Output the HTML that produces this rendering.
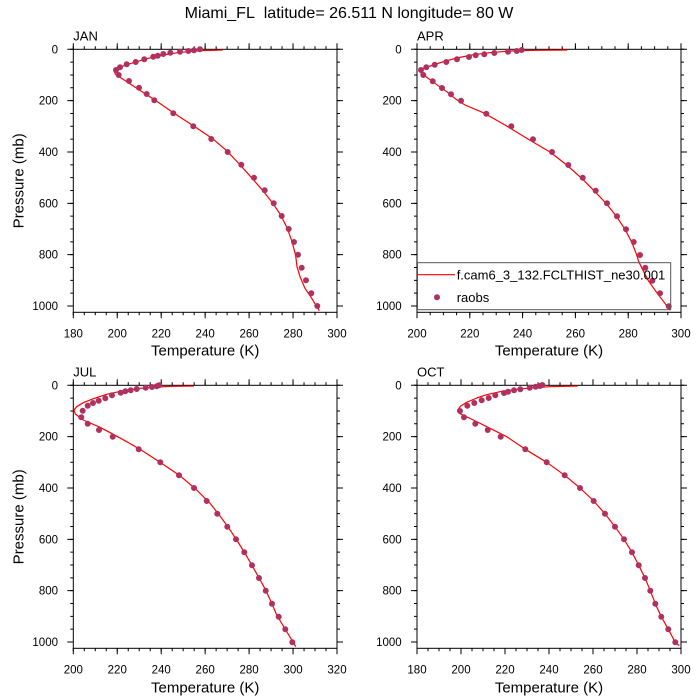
<!DOCTYPE html>
<html>
<head>
<meta charset="utf-8">
<style>
  html, body { margin:0; padding:0; background:#fff; }
  svg { display:block; }
  text { font-family: "Liberation Sans", Arial, sans-serif; fill:#000; }
  .tk { font-size:11.5px; }
  .ax { font-size:15px; }
  .pt { font-size:13px; }
</style>
</head>
<body>
<svg width="700" height="700" viewBox="0 0 700 700" xmlns="http://www.w3.org/2000/svg">
  <rect width="700" height="700" fill="#fff"/>
  <text x="349" y="18" font-size="16" text-anchor="middle">Miami_FL&#160; latitude= 26.511 N longitude= 80 W</text>

  <!-- ========== JAN ========== -->
  <g>
    <text class="pt" x="73.3" y="40.7">JAN</text>
    <rect x="73.3" y="49.3" width="263.7" height="263" fill="none" stroke="#000" stroke-width="1"/>
    <g stroke="#000" fill="none">
      <line x1="72.8" y1="313.8" x2="337.6" y2="313.8" stroke-width="3" stroke-dasharray="1 9.9875"/>
      <line x1="72.8" y1="315.3" x2="337.6" y2="315.3" stroke-width="6" stroke-dasharray="1 42.95"/>
      <line x1="72.8" y1="47.8" x2="337.6" y2="47.8" stroke-width="3" stroke-dasharray="1 9.9875"/>
      <line x1="72.8" y1="46.3" x2="337.6" y2="46.3" stroke-width="6" stroke-dasharray="1 42.95"/>
      <line x1="71.8" y1="48.8" x2="71.8" y2="306.6" stroke-width="3" stroke-dasharray="1 11.835"/>
      <line x1="70.3" y1="48.8" x2="70.3" y2="306.6" stroke-width="6" stroke-dasharray="1 50.34"/>
      <line x1="338.5" y1="48.8" x2="338.5" y2="306.6" stroke-width="3" stroke-dasharray="1 11.835"/>
      <line x1="340" y1="48.8" x2="340" y2="306.6" stroke-width="6" stroke-dasharray="1 50.34"/>
    </g>
    <g class="tk" text-anchor="middle">
      <text x="73.3" y="337.3">180</text><text x="117.25" y="337.3">200</text><text x="161.2" y="337.3">220</text>
      <text x="205.15" y="337.3">240</text><text x="249.1" y="337.3">260</text><text x="293.05" y="337.3">280</text><text x="337" y="337.3">300</text>
    </g>
    <g class="tk" text-anchor="end">
      <text x="58" y="53.3">0</text><text x="58" y="104.6">200</text><text x="58" y="156">400</text>
      <text x="58" y="207.3">600</text><text x="58" y="258.7">800</text><text x="58" y="310">1000</text>
    </g>
    <text class="ax" x="205.2" y="355.5" text-anchor="middle">Temperature (K)</text>
    <text class="ax" x="23.5" y="180.8" text-anchor="middle" transform="rotate(-90 23.5 180.8)">Pressure (mb)</text>
    <polyline fill="none" stroke="#ff0000" stroke-width="1.2" stroke-linejoin="round"
      points="222.7,50 200,50.7 180,52.3 163.3,55 146.7,58.7 133.3,62.7 123.3,66 116.7,69 114.3,71.3 115.3,74 120,77.3 133.3,86 146.7,94.7 156.7,101.3 173.3,112.7 193.3,125.7 213.3,139.3 226.7,150.7 239.3,164 250.7,176.7 261.7,189.3 271.7,201.7 280.7,215 287.3,228.3 292,241.7 294.7,251.7 295.7,256 297,266.7 300,276.7 305,288.3 311.7,298.3 319.3,310.7"/>
    <path fill="none" stroke="#B03060" stroke-width="6" stroke-linecap="round"
      d="M200,49.3h0M194,50.3h0M188.3,51h0M180,51.7h0M170.3,52.7h0M163.3,54h0M157.7,55.7h0M153.3,56.7h0M144.3,59.3h0M135.7,62h0M126.7,64.3h0M120,67.3h0M116,70h0M118.7,75h0M129,81h0M139,87.7h0M146.7,94h0M154.3,100.3h0M173.3,113.3h0M193.3,126.3h0M211.3,139h0M227.7,152h0M241.3,164.7h0M254,177.7h0M264.7,190.3h0M273.7,203.3h0M281.7,216h0M288.7,229h0M294,242h0M298,254.7h0M301.7,267.7h0M306,280.3h0M311.3,293.3h0M317.3,306h0"/>
  </g>

  <!-- ========== APR ========== -->
  <g>
    <text class="pt" x="417" y="40.7">APR</text>
    <rect x="417" y="49.3" width="264" height="263" fill="none" stroke="#000" stroke-width="1"/>
    <g stroke="#000" fill="none">
      <line x1="416.5" y1="313.8" x2="681.6" y2="313.8" stroke-width="3" stroke-dasharray="1 12.2"/>
      <line x1="416.5" y1="315.3" x2="681.6" y2="315.3" stroke-width="6" stroke-dasharray="1 51.8"/>
      <line x1="416.5" y1="47.8" x2="681.6" y2="47.8" stroke-width="3" stroke-dasharray="1 12.2"/>
      <line x1="416.5" y1="46.3" x2="681.6" y2="46.3" stroke-width="6" stroke-dasharray="1 51.8"/>
      <line x1="415.5" y1="48.8" x2="415.5" y2="306.6" stroke-width="3" stroke-dasharray="1 11.835"/>
      <line x1="414" y1="48.8" x2="414" y2="306.6" stroke-width="6" stroke-dasharray="1 50.34"/>
      <line x1="682.5" y1="48.8" x2="682.5" y2="306.6" stroke-width="3" stroke-dasharray="1 11.835"/>
      <line x1="684" y1="48.8" x2="684" y2="306.6" stroke-width="6" stroke-dasharray="1 50.34"/>
    </g>
    <g class="tk" text-anchor="middle">
      <text x="417" y="337.3">200</text><text x="469.8" y="337.3">220</text><text x="522.6" y="337.3">240</text>
      <text x="575.4" y="337.3">260</text><text x="628.2" y="337.3">280</text><text x="681" y="337.3">300</text>
    </g>
    <g class="tk" text-anchor="end">
      <text x="401.7" y="53.3">0</text><text x="401.7" y="104.6">200</text><text x="401.7" y="156">400</text>
      <text x="401.7" y="207.3">600</text><text x="401.7" y="258.7">800</text><text x="401.7" y="310">1000</text>
    </g>
    <text class="ax" x="549" y="355.5" text-anchor="middle">Temperature (K)</text>
    <polyline fill="none" stroke="#ff0000" stroke-width="1.2" stroke-linejoin="round"
      points="567.3,50 536.7,50.3 510,51 490,52.7 473.3,54.7 456.7,58 443.3,61.7 433.3,65 425,67.7 420,70 420.7,72.7 425,76 435,83.3 446.7,91.7 456,99.3 465,105 483.3,112.7 505,125 528.3,139.3 550,152 566.7,165 581.7,178.3 595,191.7 606.7,204 616.7,216.7 625,229.3 631.7,242 636.7,255 638.7,261.7 641.7,267.7 648.3,280.7 657.3,293.3 666.7,305.7 670,310"/>
    <path fill="none" stroke="#B03060" stroke-width="6" stroke-linecap="round"
      d="M521.7,50h0M516.7,51h0M508,51.7h0M494.3,53h0M484.3,54.3h0M475.7,55.3h0M469,57h0M457,59.3h0M446.3,62h0M434.7,64.7h0M426.3,67.3h0M421,70h0M423.3,75h0M432.7,81.3h0M442,88h0M451,94.3h0M461,100.7h0M486.3,113.7h0M511.3,126.3h0M533,139.3h0M552,152h0M568.3,165h0M582.7,177.7h0M595.7,190.7h0M607,203.3h0M617,216.3h0M626,229.3h0M633.7,242h0M640,255h0M645.3,267.7h0M652.3,280.7h0M660,293.3h0M668.7,306.3h0"/>
    <rect x="417.5" y="262.7" width="253.2" height="47" fill="none" stroke="#555" stroke-width="1"/>
    <line x1="418" y1="274.7" x2="455" y2="274.7" stroke="#ff0000" stroke-width="1.2"/>
    <text x="456.7" y="279.3" font-size="13">f.cam6_3_132.FCLTHIST_ne30.001</text>
    <circle cx="437" cy="297.3" r="3" fill="#B03060"/>
    <text x="456.7" y="302" font-size="13">raobs</text>
  </g>

  <!-- ========== JUL ========== -->
  <g>
    <text class="pt" x="73.3" y="376.7">JUL</text>
    <rect x="73.3" y="385.3" width="263.7" height="263" fill="none" stroke="#000" stroke-width="1"/>
    <g stroke="#000" fill="none">
      <line x1="72.8" y1="649.8" x2="337.6" y2="649.8" stroke-width="3" stroke-dasharray="1 9.9875"/>
      <line x1="72.8" y1="651.3" x2="337.6" y2="651.3" stroke-width="6" stroke-dasharray="1 42.95"/>
      <line x1="72.8" y1="383.8" x2="337.6" y2="383.8" stroke-width="3" stroke-dasharray="1 9.9875"/>
      <line x1="72.8" y1="382.3" x2="337.6" y2="382.3" stroke-width="6" stroke-dasharray="1 42.95"/>
      <line x1="71.8" y1="384.8" x2="71.8" y2="642.6" stroke-width="3" stroke-dasharray="1 11.835"/>
      <line x1="70.3" y1="384.8" x2="70.3" y2="642.6" stroke-width="6" stroke-dasharray="1 50.34"/>
      <line x1="338.5" y1="384.8" x2="338.5" y2="642.6" stroke-width="3" stroke-dasharray="1 11.835"/>
      <line x1="340" y1="384.8" x2="340" y2="642.6" stroke-width="6" stroke-dasharray="1 50.34"/>
    </g>
    <g class="tk" text-anchor="middle">
      <text x="73.3" y="673.3">200</text><text x="117.25" y="673.3">220</text><text x="161.2" y="673.3">240</text>
      <text x="205.15" y="673.3">260</text><text x="249.1" y="673.3">280</text><text x="293.05" y="673.3">300</text><text x="337" y="673.3">320</text>
    </g>
    <g class="tk" text-anchor="end">
      <text x="58" y="389.3">0</text><text x="58" y="440.6">200</text><text x="58" y="492">400</text>
      <text x="58" y="543.3">600</text><text x="58" y="594.7">800</text><text x="58" y="646">1000</text>
    </g>
    <text class="ax" x="205.2" y="692.5" text-anchor="middle">Temperature (K)</text>
    <text class="ax" x="23.5" y="516.8" text-anchor="middle" transform="rotate(-90 23.5 516.8)">Pressure (mb)</text>
    <polyline fill="none" stroke="#ff0000" stroke-width="1.2" stroke-linejoin="round"
      points="194,386 173.3,386.3 156.7,387 140,388.3 123.3,390.7 106.7,394.3 93.3,398.7 83.3,402.7 76.7,406.7 74,410 75.3,414 83.3,420 100,427.3 113.3,434.3 126.7,441.7 140,449.3 160,462.3 180,475.7 196.7,490 210,503.3 220,516 228.3,527.3 236.7,540 245,553.3 252.3,566 259.3,578.3 266,590.7 271.7,603.3 276.7,615 281.7,623.3 287.3,632.7 292.3,640.7 295.7,646.7"/>
    <path fill="none" stroke="#B03060" stroke-width="6" stroke-linecap="round"
      d="M159,385.3h0M156.7,386.3h0M152,387h0M145.7,387.7h0M136.7,389h0M130.7,390.3h0M125.3,391.3h0M120.7,392.7h0M112,395.3h0M105.3,398.3h0M98.7,400.7h0M93,403h0M87.7,405.7h0M82.7,410.7h0M81.3,417.3h0M87.7,423.7h0M99,430h0M112.7,436.7h0M138.7,449.3h0M160.3,462.3h0M179,475.3h0M194,488h0M206.7,501h0M217.3,513.7h0M227.3,526.7h0M236,539.3h0M244.3,552.3h0M252,565.3h0M259,578h0M265.7,590.7h0M272,603.7h0M278.7,616.7h0M285.3,629.3h0M292.3,642.3h0"/>
  </g>

  <!-- ========== OCT ========== -->
  <g>
    <text class="pt" x="417" y="376.7">OCT</text>
    <rect x="417" y="385.3" width="264" height="263" fill="none" stroke="#000" stroke-width="1"/>
    <g stroke="#000" fill="none">
      <line x1="416.5" y1="649.8" x2="681.6" y2="649.8" stroke-width="3" stroke-dasharray="1 10"/>
      <line x1="416.5" y1="651.3" x2="681.6" y2="651.3" stroke-width="6" stroke-dasharray="1 43"/>
      <line x1="416.5" y1="383.8" x2="681.6" y2="383.8" stroke-width="3" stroke-dasharray="1 10"/>
      <line x1="416.5" y1="382.3" x2="681.6" y2="382.3" stroke-width="6" stroke-dasharray="1 43"/>
      <line x1="415.5" y1="384.8" x2="415.5" y2="642.6" stroke-width="3" stroke-dasharray="1 11.835"/>
      <line x1="414" y1="384.8" x2="414" y2="642.6" stroke-width="6" stroke-dasharray="1 50.34"/>
      <line x1="682.5" y1="384.8" x2="682.5" y2="642.6" stroke-width="3" stroke-dasharray="1 11.835"/>
      <line x1="684" y1="384.8" x2="684" y2="642.6" stroke-width="6" stroke-dasharray="1 50.34"/>
    </g>
    <g class="tk" text-anchor="middle">
      <text x="417" y="673.3">180</text><text x="461" y="673.3">200</text><text x="505" y="673.3">220</text>
      <text x="549" y="673.3">240</text><text x="593" y="673.3">260</text><text x="637" y="673.3">280</text><text x="681" y="673.3">300</text>
    </g>
    <g class="tk" text-anchor="end">
      <text x="401.7" y="389.3">0</text><text x="401.7" y="440.6">200</text><text x="401.7" y="492">400</text>
      <text x="401.7" y="543.3">600</text><text x="401.7" y="594.7">800</text><text x="401.7" y="646">1000</text>
    </g>
    <text class="ax" x="549" y="692.5" text-anchor="middle">Temperature (K)</text>
    <polyline fill="none" stroke="#ff0000" stroke-width="1.2" stroke-linejoin="round"
      points="577.7,386 550,386.7 533.3,387.7 516.7,389.3 500,391.7 486.7,394.7 476.7,398 466.7,402.3 460.7,406 457.7,410 459.3,413.3 473.3,420 490,428.3 506.7,436.7 525.3,449.3 546.7,462.3 564.7,475.3 580,488 593.7,501 605,513.7 615,526.7 624,539.3 632,552.3 638.7,565.3 645,578 650.3,590.7 655.3,603.7 661.3,616.7 668.3,629.3 675.3,642.3 679.3,645.7"/>
    <path fill="none" stroke="#B03060" stroke-width="6" stroke-linecap="round"
      d="M542.3,385h0M540,386h0M535.7,386.7h0M529.7,387.7h0M520.3,389.3h0M514,390.3h0M508,391.7h0M504,393h0M495.3,395.3h0M488.7,398h0M481.7,400.3h0M474.3,403h0M467.3,405.7h0M460,411h0M464,417.3h0M475.3,423.7h0M487.7,430h0M500.7,436.7h0M525.3,449.3h0M546.7,462.3h0M564.7,475.3h0M580,488h0M593.7,501h0M605,513.7h0M615,526.7h0M624,539.3h0M632,552.3h0M638.7,565.3h0M645,578h0M650.3,590.7h0M655.3,603.7h0M661.3,616.7h0M668.3,629.3h0M675.3,642.3h0"/>
  </g>
</svg>
</body>
</html>
